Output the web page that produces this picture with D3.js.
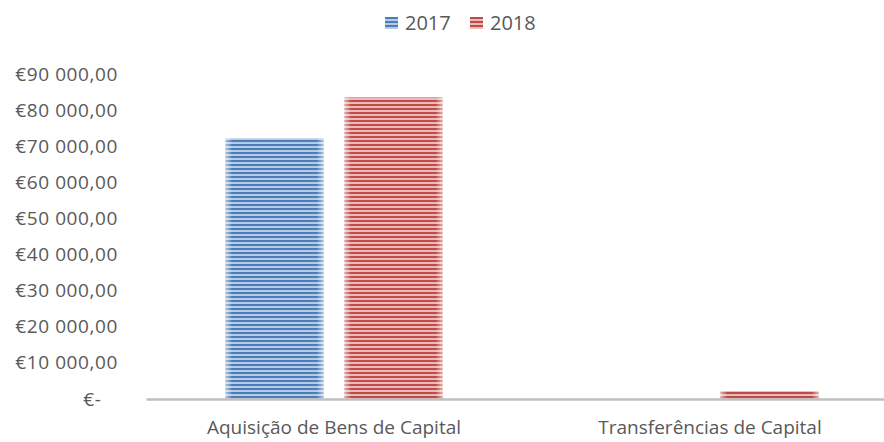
<!DOCTYPE html>
<meta charset="utf-8">
<title>Despesas de Capital</title>
<style>
body { margin: 0; background: #fff; }
text { font-family: "Open Sans", sans-serif; fill: #595959; }
</style>
<svg></svg>
<script src="https://d3js.org/d3.v7.min.js"></script>
<script>
var width = 884,
  height = 442;

// data
var categories = ["Aquisição de Bens de Capital", "Transferências de Capital"];
var seriesNames = ["2017", "2018"];
var values2017 = [72200, 0];
var values2018 = [83500, 2200];
var yTicks = [0, 10000, 20000, 30000, 40000, 50000, 60000, 70000, 80000, 90000];

var dark = { "2017": "#4a7ebb", "2018": "#be4b48" },
  light = { "2017": "#b7cbe6", "2018": "#eab9b8" };

var rows = categories.map(function(c, i) {
  return { cat: c, vals: [
    { key: "2017", value: values2017[i] },
    { key: "2018", value: values2018[i] }
  ] };
});

var svg = d3.select("svg")
  .attr("width", width)
  .attr("height", height);

var defs = svg.append("defs");

// horizontal stripe fill like the Excel pattern
seriesNames.forEach(function(k) {
  var p = defs.append("pattern")
    .attr("id", "stripe" + k)
    .attr("patternUnits", "userSpaceOnUse")
    .attr("width", 8)
    .attr("height", 4);
  p.append("rect").attr("width", 8).attr("height", 4).attr("fill", light[k]);
  p.append("rect").attr("width", 8).attr("height", 2).attr("fill", dark[k]);
});

// light edges on the bars
var edge = defs.append("linearGradient").attr("id", "edge");
[[0, 0.55], [0.07, 0], [0.93, 0], [1, 0.55]].forEach(function(s) {
  edge.append("stop")
    .attr("offset", s[0])
    .attr("stop-color", "#fff")
    .attr("stop-opacity", s[1]);
});

var locale = d3.formatLocale({
  decimal: ",",
  thousands: " ",
  grouping: [3],
  currency: ["€", ""]
});
var money = locale.format(",.2f");

var x0 = d3.scaleBand()
  .domain(categories)
  .range([146, 898]);

var x1 = d3.scaleBand()
  .domain(seriesNames)
  .range([0, x0.bandwidth()])
  .paddingInner(0.176)
  .paddingOuter(0.668);

var y = d3.scaleLinear()
  .domain([0, 90000])
  .range([399, 74]);

// y axis labels (no line, no ticks)
var yAxis = d3.axisLeft(y)
  .tickValues(yTicks)
  .tickSize(0)
  .tickPadding(0)
  .tickFormat(function(d) {
    return d === 0 ? "€-\u00a0\u00a0\u00a0" : "€" + money(d);
  });

var gy = svg.append("g")
  .attr("transform", "translate(118,0)")
  .call(yAxis);
gy.select(".domain").remove();
gy.selectAll("text")
  .attr("font-family", "Open Sans, sans-serif")
  .attr("font-size", 19)
  .attr("letter-spacing", 0.6)
  .attr("fill", "#595959");

// bars
var groups = svg.append("g")
  .selectAll("g")
  .data(rows)
  .enter()
  .append("g")
  .attr("transform", function(d) { return "translate(" + x0(d.cat) + ",0)"; });

groups.selectAll("rect.bar")
  .data(function(d) { return d.vals.filter(function(v) { return v.value > 0; }); })
  .enter()
  .append("rect")
  .attr("class", "bar")
  .attr("x", function(d) { return x1(d.key); })
  .attr("y", function(d) { return y(d.value); })
  .attr("width", x1.bandwidth())
  .attr("height", function(d) { return y(0) - y(d.value); })
  .attr("fill", function(d) { return "url(#stripe" + d.key + ")"; });

groups.selectAll("rect.edge")
  .data(function(d) { return d.vals.filter(function(v) { return v.value > 0; }); })
  .enter()
  .append("rect")
  .attr("class", "edge")
  .attr("x", function(d) { return x1(d.key); })
  .attr("y", function(d) { return y(d.value); })
  .attr("width", x1.bandwidth())
  .attr("height", function(d) { return y(0) - y(d.value); })
  .attr("fill", "url(#edge)");

// x axis
var xAxis = d3.axisBottom(x0)
  .tickSize(0)
  .tickPadding(22);

var gx = svg.append("g")
  .attr("transform", "translate(0," + y(0) + ")")
  .call(xAxis);
gx.select(".domain")
  .attr("stroke", "#bfbfbf")
  .attr("stroke-width", 2.5);
gx.selectAll("text")
  .attr("font-family", "Open Sans, sans-serif")
  .attr("font-size", 19)
  .attr("fill", "#595959");

// legend
var legend = svg.append("g")
  .selectAll("g")
  .data(seriesNames)
  .enter()
  .append("g")
  .attr("transform", function(d, i) { return "translate(" + (385 + i * 85) + ",17)"; });

legend.append("rect")
  .attr("width", 13)
  .attr("height", 12)
  .attr("fill", function(d) { return "url(#stripe" + d + ")"; });

legend.append("text")
  .attr("x", 20)
  .attr("y", 13)
  .attr("font-size", 20)
  .text(function(d) { return d; });
</script>
